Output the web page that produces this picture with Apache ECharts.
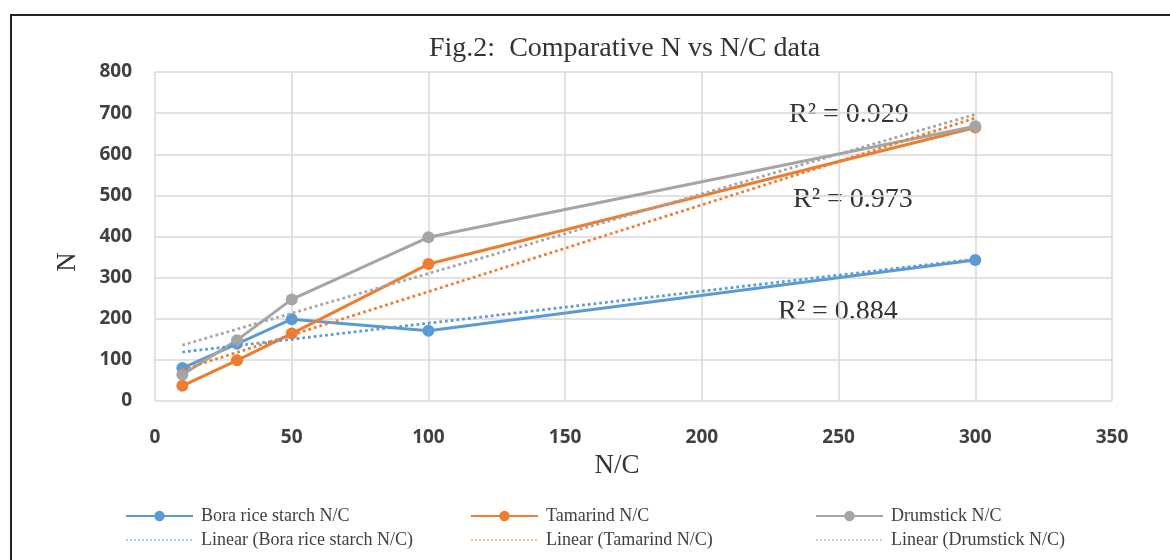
<!DOCTYPE html>
<html>
<head>
<meta charset="utf-8">
<title>Fig.2 Comparative N vs N/C data</title>
<script src="https://cdn.jsdelivr.net/npm/echarts@6/dist/echarts.min.js"></script>
<style>
  html, body { margin: 0; padding: 0; background: #fff; }
  #chart { width: 1170px; height: 560px; }
</style>
</head>
<body>
<div id="chart"></div>
<script>
// N/C values on the x axis
const ncValues = [10, 30, 50, 100, 300]

// N values per sample
const boraN = [80, 139, 199, 171, 343]
const tamarindN = [37, 99, 164, 333, 665]
const drumstickN = [64, 148, 247, 398, 668]

// linear trend lines, read at both ends
const trendX = [10, 300]
const boraTrend = [119, 345]
const tamarindTrend = [76, 688]
const drumstickTrend = [136, 697]

const seriesNames = ['Bora rice starch N/C', 'Tamarind N/C', 'Drumstick N/C']
const r2Labels = ['R² = 0.929', 'R² = 0.973', 'R² = 0.884']

const colors = ['#5B9BD5', '#ED7D31', '#A5A5A5']
const serif = '"Liberation Serif", "Times New Roman", serif'

const pairs = (xs, ys) => xs.map((x, i) => [x, ys[i]])

const lineSeries = (name, ys, color) => ({
  name: name,
  type: 'line',
  data: pairs(ncValues, ys),
  symbol: 'circle',
  symbolSize: 12,
  color: color,
  lineStyle: { width: 3, color: color },
  itemStyle: { color: color },
  z: 3
})

// dotted: 2.75px dots, 3px gaps
const trendSeries = (name, ys, color) => ({
  name: 'Linear (' + name + ')',
  type: 'line',
  data: pairs(trendX, ys),
  symbol: 'none',
  color: color,
  lineStyle: { width: 2.75, color: color, type: [2.75, 3], cap: 'butt' },
  z: 4
})

const legendCol = (left, i) => ({
  left: left,
  top: 502,
  orient: 'vertical',
  itemWidth: 67,
  itemHeight: 13,
  itemGap: 6,
  data: [
    seriesNames[i],
    // no dot in the icon of a trend line
    { name: 'Linear (' + seriesNames[i] + ')', itemStyle: { color: 'transparent', borderColor: 'transparent', opacity: 0 }, lineStyle: { width: 1.5, opacity: 0.7, type: [2, 2] } }
  ],
  textStyle: { fontFamily: serif, fontSize: 18, color: '#404040', padding: [0, 0, 0, 3] }
})

const chart = echarts.init(document.getElementById('chart'))

chart.setOption({
  animation: false,
  backgroundColor: '#fff',
  title: {
    text: 'Fig.2:  Comparative N vs N/C data',
    left: 424,
    top: 30,
    textStyle: { fontFamily: serif, fontSize: 28, fontWeight: 'normal', color: '#333' }
  },
  grid: { left: 155, right: 58, top: 72, bottom: 159 },
  xAxis: {
    type: 'value',
    min: 0,
    max: 350,
    interval: 50,
    axisLine: { show: false },
    axisTick: { show: false },
    splitLine: { lineStyle: { color: '#D9D9D9', width: 1.5 } },
    axisLabel: { margin: 27, fontFamily: '"Open Sans", sans-serif', fontWeight: 'bold', fontSize: 19, color: '#404040' }
  },
  yAxis: {
    type: 'value',
    min: 0,
    max: 800,
    interval: 100,
    axisLine: { show: false },
    axisTick: { show: false },
    splitLine: { lineStyle: { color: '#D9D9D9', width: 1.5 } },
    axisLabel: { margin: 23, fontFamily: '"Open Sans", sans-serif', fontWeight: 'bold', fontSize: 19, color: '#404040' }
  },
  legend: [legendCol(120, 0), legendCol(465, 1), legendCol(810, 2)],
  series: [
    lineSeries(seriesNames[0], boraN, colors[0]),
    lineSeries(seriesNames[1], tamarindN, colors[1]),
    lineSeries(seriesNames[2], drumstickN, colors[2]),
    trendSeries(seriesNames[0], boraTrend, colors[0]),
    trendSeries(seriesNames[1], tamarindTrend, colors[1]),
    trendSeries(seriesNames[2], drumstickTrend, colors[2])
  ],
  graphic: [
    // outer frame, only left and top edges fall inside the picture
    { type: 'rect', shape: { x: 11, y: 15, width: 1300, height: 700 }, style: { fill: null, stroke: '#222', lineWidth: 2 }, silent: true },
    // axis names
    { type: 'text', x: 68, y: 262, rotation: Math.PI / 2, style: { text: 'N', font: '27px ' + serif, fill: '#333', align: 'center', verticalAlign: 'middle' } },
    { type: 'text', x: 617, y: 466, style: { text: 'N/C', font: '27px ' + serif, fill: '#333', align: 'center', verticalAlign: 'middle' } },
    // R² labels of the trend lines
    { type: 'text', x: 789, y: 115, style: { text: r2Labels[0], font: '28px ' + serif, fill: '#333', verticalAlign: 'middle' } },
    { type: 'text', x: 793, y: 200, style: { text: r2Labels[1], font: '28px ' + serif, fill: '#333', verticalAlign: 'middle' } },
    { type: 'text', x: 778, y: 312, style: { text: r2Labels[2], font: '28px ' + serif, fill: '#333', verticalAlign: 'middle' } }
  ]
})
</script>
</body>
</html>
